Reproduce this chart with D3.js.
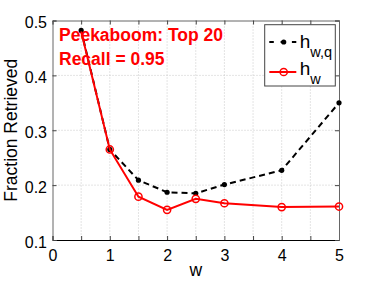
<!DOCTYPE html>
<meta charset="utf-8">
<style>
  body { margin: 0; background: #fff; }
  text { font-family: "Liberation Sans", Arial, sans-serif; }
</style>
<body>
<div id="chart"></div>
<script src="https://d3js.org/d3.v7.min.js"></script>
<script>

var wq = [0.5, 1, 1.5, 2, 2.5, 3, 4, 5];
var hwq = [0.482, 0.265, 0.209, 0.187, 0.185, 0.201, 0.227, 0.35];
var hw = [0.48, 0.265, 0.179, 0.155, 0.175, 0.167, 0.160, 0.161];
var xTicks = [0, 0.5, 1, 1.5, 2, 2.5, 3, 3.5, 4, 4.5, 5];
var yTicks = [0.1, 0.2, 0.3, 0.4, 0.5];

var W = 374, H = 281;
var margin = {top: 20.5, right: 35, bottom: 41, left: 52.5},
    width = W - margin.left - margin.right,
    height = H - margin.top - margin.bottom;

var svg = d3.select("#chart").append("svg")
    .attr("width", W).attr("height", H);
var g = svg.append("g")
    .attr("transform", "translate(" + margin.left + "," + margin.top + ")");

var x = d3.scaleLinear().domain([0, 5]).range([0, width]);
var y = d3.scaleLinear().domain([0.1, 0.5]).range([height, 0]);

// grid
g.selectAll(".gx").data(xTicks.slice(1, -1)).enter().append("line")
  .attr("x1", d => x(d)).attr("x2", d => x(d))
  .attr("y1", 0).attr("y2", height)
  .attr("stroke", "#c8c8c8").attr("stroke-dasharray", "1,2");
g.selectAll(".gy").data(yTicks.slice(1, -1)).enter().append("line")
  .attr("x1", 0).attr("x2", width)
  .attr("y1", d => y(d)).attr("y2", d => y(d))
  .attr("stroke", "#c8c8c8").attr("stroke-dasharray", "1,2");

// axes (ticks inward)
var fmtX = d => Number.isInteger(d) ? d : "";
var axB = g.append("g").attr("transform", "translate(0," + height + ")")
  .call(d3.axisBottom(x).tickValues(xTicks).tickSize(-4).tickPadding(9.5).tickFormat(fmtX));
var axT = g.append("g")
  .call(d3.axisTop(x).tickValues(xTicks).tickSize(-4).tickFormat(""));
var axL = g.append("g")
  .call(d3.axisLeft(y).tickValues(yTicks).tickSize(-4).tickPadding(5.5).tickFormat(d3.format(".1f")));
var axR = g.append("g").attr("transform", "translate(" + width + ",0)")
  .call(d3.axisRight(y).tickValues(yTicks).tickSize(-4).tickFormat(""));

[axB, axT, axL, axR].forEach(function(a) {
  a.selectAll("text").attr("fill", "#000").style("font-size", "16px")
    .style("font-family", "'Liberation Sans', Arial, sans-serif");
  a.selectAll("line").attr("stroke", "#444");
  a.select(".domain").attr("stroke", "#666");
});
axB.select(".domain").attr("stroke", "#000");
axL.selectAll("text").attr("dy", "0.45em");

// series
var line = d3.line().x((d, i) => x(wq[i])).y(d => y(d));

g.append("path").datum(hwq).attr("d", line)
  .attr("fill", "none").attr("stroke", "#000").attr("stroke-width", 2)
  .attr("stroke-dasharray", "6,4");
g.selectAll(".dq").data(hwq).enter().append("circle")
  .attr("cx", (d, i) => x(wq[i])).attr("cy", d => y(d)).attr("r", 2.6)
  .attr("fill", "#000");

g.append("path").datum(hw).attr("d", line)
  .attr("fill", "none").attr("stroke", "#ff0000").attr("stroke-width", 2);
g.selectAll(".dw").data(hw).enter().append("circle")
  .filter((d, i) => i > 0)
  .attr("cx", d => x(wq[hw.indexOf(d)])).attr("cy", d => y(d)).attr("r", 3.6)
  .attr("fill", "none").attr("stroke", "#ff0000").attr("stroke-width", 1.5);

// annotation
g.append("text").attr("x", 6.5).attr("y", 20.5)
  .style("font-size", "17.5px").attr("font-weight", "bold").attr("fill", "#ff0000")
  .text("Peekaboom: Top 20");
g.append("text").attr("x", 6.5).attr("y", 44)
  .style("font-size", "17.5px").attr("font-weight", "bold").attr("fill", "#ff0000")
  .text("Recall = 0.95");

// legend
var lg = svg.append("g").attr("transform", "translate(264.7,24.7)");
lg.append("rect").attr("width", 70.6).attr("height", 61.3)
  .attr("fill", "#fff").attr("stroke", "#444").attr("stroke-width", 1);
lg.append("line").attr("x1", 4.6).attr("x2", 31.6).attr("y1", 17.3).attr("y2", 17.3)
  .attr("stroke", "#000").attr("stroke-width", 2).attr("stroke-dasharray", "4.5,6.8");
lg.append("circle").attr("cx", 19).attr("cy", 17.3).attr("r", 2.6).attr("fill", "#000");
lg.append("line").attr("x1", 4.6).attr("x2", 31.6).attr("y1", 47.3).attr("y2", 47.3)
  .attr("stroke", "#ff0000").attr("stroke-width", 2);
lg.append("circle").attr("cx", 19).attr("cy", 47.3).attr("r", 3.6)
  .attr("fill", "none").attr("stroke", "#ff0000").attr("stroke-width", 1.5);
var t1 = lg.append("text").attr("x", 35).attr("y", 23.3).style("font-size", "19px");
t1.append("tspan").text("h");
t1.append("tspan").style("font-size", "14.5px").attr("dy", 9).text("w,q");
var t2 = lg.append("text").attr("x", 35).attr("y", 50.6).style("font-size", "19px");
t2.append("tspan").text("h");
t2.append("tspan").style("font-size", "14.5px").attr("dy", 8.4).text("w");

// axis labels
svg.append("text").attr("transform", "translate(17," + (margin.top + height / 2) + ") rotate(-90)")
  .attr("text-anchor", "middle").style("font-size", "17.5px").text("Fraction Retrieved");
svg.append("text").attr("x", margin.left + width / 2).attr("y", 276)
  .attr("text-anchor", "middle").style("font-size", "17.5px").text("w");

</script>
</body>
